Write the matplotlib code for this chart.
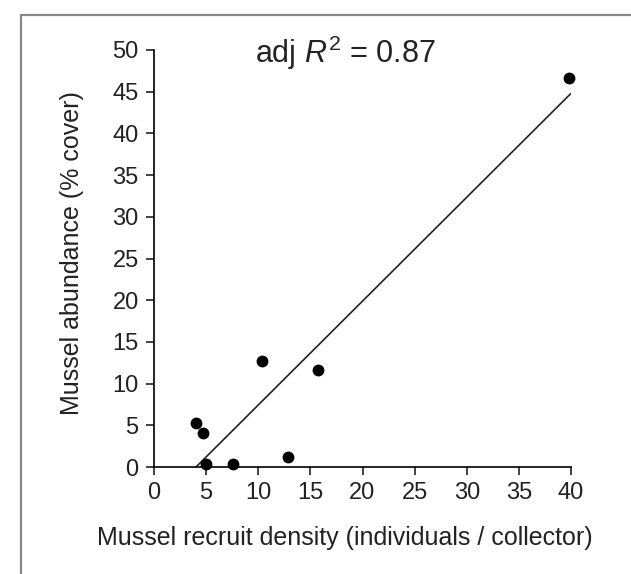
import matplotlib.pyplot as plt
from matplotlib.patches import Rectangle

plt.rcParams['font.family'] = ['Liberation Sans', 'DejaVu Sans']
plt.rcParams['mathtext.fontset'] = 'custom'
plt.rcParams['mathtext.rm'] = 'Liberation Sans'
plt.rcParams['mathtext.it'] = 'Liberation Sans:italic'

# recruit density vs mussel cover
recruits = [4.07, 4.7, 4.95, 7.6, 10.35, 12.87, 15.7, 39.8]
cover = [5.3, 4.1, 0.35, 0.35, 12.75, 1.14, 11.65, 46.7]

# fitted regression line endpoints
fit_x = [4.03, 39.96]
fit_y = [0.0, 44.75]

xticks = [0, 5, 10, 15, 20, 25, 30, 35, 40]
yticks = [0, 5, 10, 15, 20, 25, 30, 35, 40, 45, 50]

fig = plt.figure(figsize=(6.31, 5.74), dpi=100)
ax = fig.add_axes([154/631, 1 - 467/574, 417/631, 417/574])

ax.plot(fit_x, fit_y, color='#222222', lw=1.2, zorder=2)
ax.plot(recruits, cover, 'o', color='black', ms=7.5, zorder=3, clip_on=False)

ax.set_xlim(0, 40)
ax.set_ylim(0, 50)
ax.set_xticks(xticks)
ax.set_yticks(yticks)
ax.spines['top'].set_visible(False)
ax.spines['right'].set_visible(False)
for s in ['left', 'bottom']:
    ax.spines[s].set_linewidth(1.2)
ax.tick_params(direction='out', length=6, width=1.2, labelsize=17, pad=5,
               colors='#222222')

ax.set_xlabel('Mussel recruit density (individuals / collector)', fontsize=18,
              color='#222222', va='center')
ax.set_ylabel('Mussel abundance (% cover)', fontsize=18, color='#222222',
              va='center')
ax.xaxis.set_label_coords(0.457, (467 - 538) / 417)
ax.yaxis.set_label_coords((72 - 154) / 417, 0.513)

ax.text(0.458, (467 - 63.3) / 417, r'adj $R^2$ = 0.87', transform=ax.transAxes,
        ha='center', va='baseline', fontsize=22, color='#222222')

# grey frame around the figure (right and bottom run off the image)
fig.patches.append(Rectangle((20.5/631, -0.05), 1.2, 1 - 15/574 + 0.05,
                             transform=fig.transFigure, fill=False,
                             edgecolor='#888888', lw=1.6))

fig.savefig('out.png', dpi=100)
